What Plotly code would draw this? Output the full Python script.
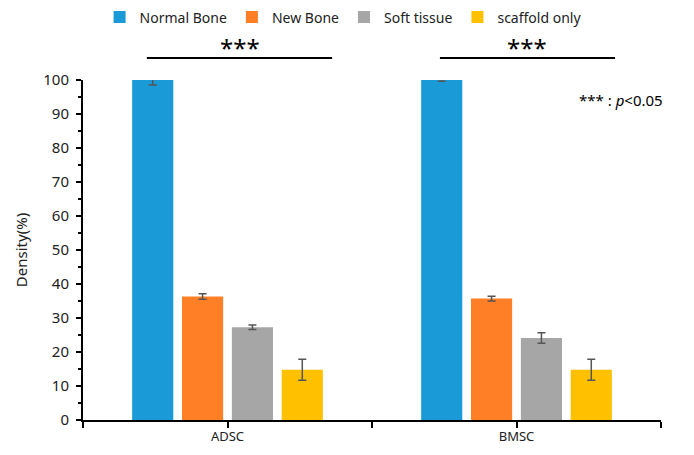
import plotly.graph_objects as go

categories = ["ADSC", "BMSC"]
series_names = ["Normal Bone", "New Bone", "Soft tissue", "scaffold only"]
normal_bone = [100.0, 100.0]
normal_bone_err = [1.5, 0.4]
new_bone = [36.3, 35.7]
new_bone_err = [0.8, 0.7]
soft_tissue = [27.3, 24.1]
soft_tissue_err = [0.65, 1.55]
scaffold_only = [14.8, 14.8]
scaffold_only_err = [3.1, 3.1]
colors = ["#1A9AD6", "#FE7F25", "#A6A6A6", "#FFC000"]
y_ticks = list(range(0, 101, 10))

values = [normal_bone, new_bone, soft_tissue, scaffold_only]
errors = [normal_bone_err, new_bone_err, soft_tissue_err, scaffold_only_err]
xpos = list(range(len(categories)))

FONT = "Noto Sans"
fig = go.Figure()
for name, v, e, c in zip(series_names, values, errors, colors):
    fig.add_trace(go.Bar(
        x=xpos, y=v, name=name, marker=dict(color=c, line=dict(width=0)),
        error_y=dict(type="data", array=e, visible=True, color="#555555",
                     thickness=1.5, width=4),
    ))

fig.update_layout(
    width=686, height=447,
    margin=dict(l=75, r=33, t=72, b=35, autoexpand=False),
    plot_bgcolor="white", paper_bgcolor="white",
    font=dict(family=FONT, size=14, color="#222222"),
    barmode="group", bargap=0.31, bargroupgap=0.175,
    showlegend=True,
    legend=dict(orientation="h", x=0.45, xanchor="center", y=1.184, yanchor="middle",
                font=dict(size=14, color="#222222"), itemwidth=30,
                traceorder="normal", tracegroupgap=0, borderwidth=0),
)
fig.update_xaxes(
    automargin=False,
    range=[-0.5, len(categories) - 0.5],
    tickvals=xpos, ticktext=categories,
    showline=True, linecolor="black", linewidth=2,
    ticks="outside", ticklen=3, tickwidth=2, tickcolor="black",
    minor=dict(dtick=0.5, tick0=-0.5, ticks="outside", ticklen=6, tickwidth=2, tickcolor="black"),
    showgrid=False, zeroline=False,
    tickfont=dict(size=13, color="#222222"),
)
fig.update_yaxes(
    automargin=False,
    range=[0, 100], tickvals=y_ticks,
    showline=True, linecolor="black", linewidth=2,
    ticks="outside", ticklen=5, tickwidth=2, tickcolor="black",
    minor=dict(dtick=5, ticks="outside", ticklen=3, tickwidth=1.5, tickcolor="black"),
    showgrid=False, zeroline=False, ticklabelstandoff=4,
    title=dict(text="Density(%)", font=dict(size=15, color="#222222"), standoff=12),
    tickfont=dict(size=15, color="#222222"),
)

# significance brackets
for lo, hi, cx in [(-0.279, 0.362, 0.043), (0.735, 1.341, 1.036)]:
    fig.add_shape(type="line", xref="x", yref="paper", x0=lo, x1=hi, y0=1.065, y1=1.065,
                  line=dict(color="black", width=2))
    fig.add_annotation(xref="x", yref="paper", x=cx, y=1.041, yanchor="bottom",
                       text="***", showarrow=False, font=dict(size=24, color="black", family=FONT))

fig.add_annotation(xref="paper", yref="paper", x=1.007, y=0.941, xanchor="right", yanchor="middle",
                   text="*** : <i>p</i>&lt;0.05", showarrow=False,
                   font=dict(size=15, color="black", family=FONT))

fig.write_html("out.html")
